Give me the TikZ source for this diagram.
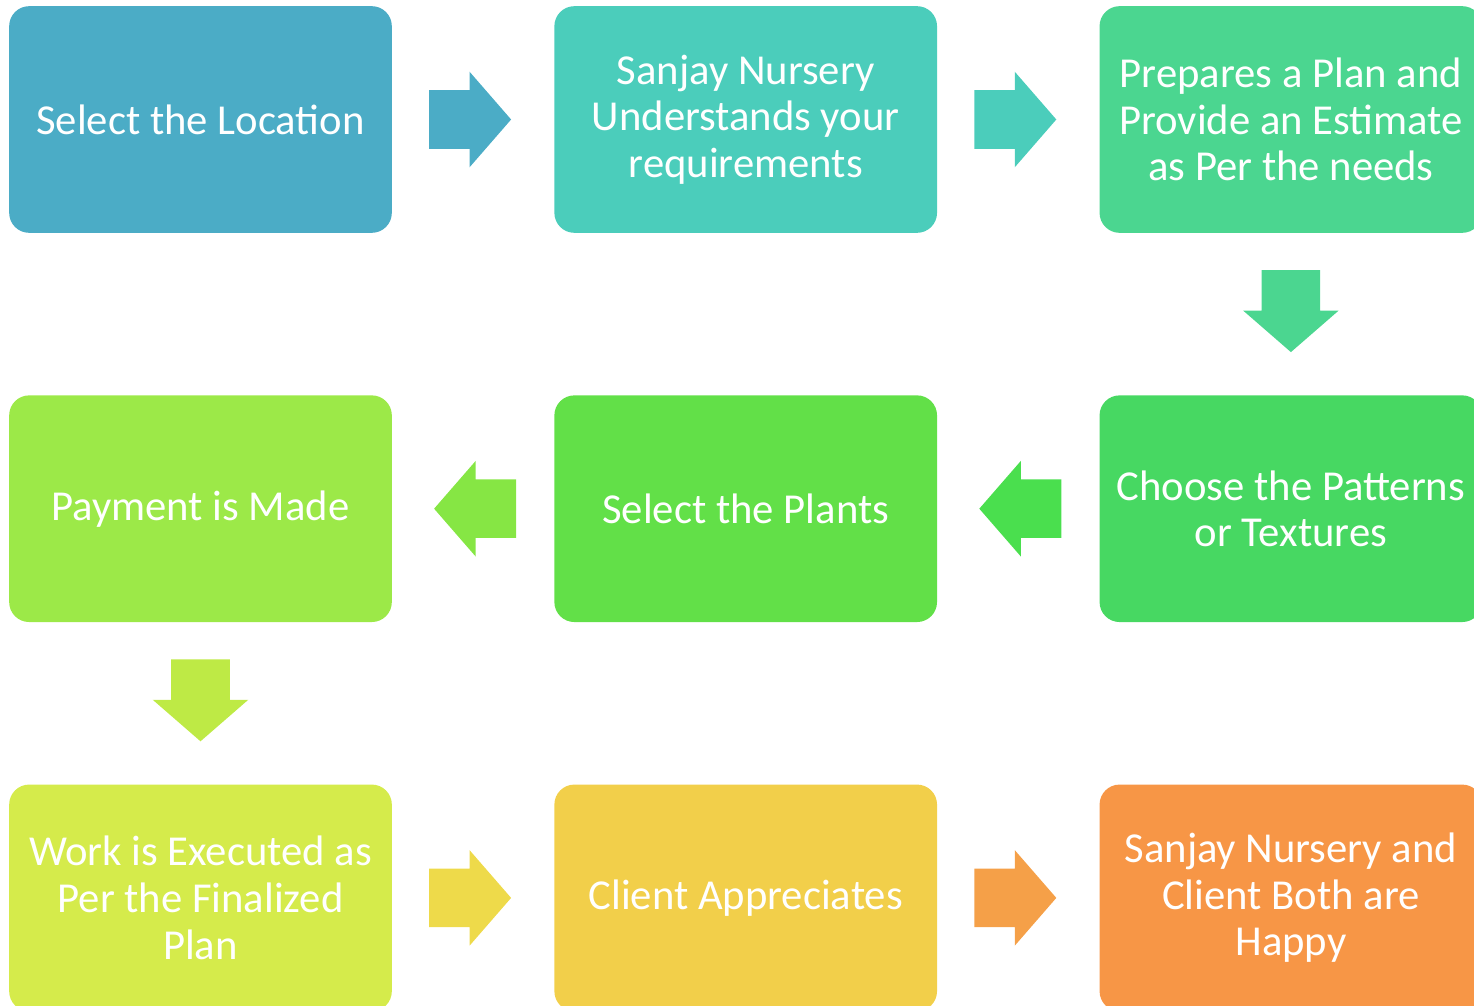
\documentclass[tikz,border=0pt]{standalone}
\usepackage{fontspec}
\setmainfont{Carlito}
\usetikzlibrary{positioning,calc,shapes.arrows}

\definecolor{boxA}{HTML}{4BACC6}
\definecolor{boxB}{HTML}{4BCDBB}
\definecolor{boxC}{HTML}{4BD690}
\definecolor{boxD}{HTML}{47D862}
\definecolor{boxE}{HTML}{62E048}
\definecolor{boxF}{HTML}{9CE948}
\definecolor{boxG}{HTML}{D5EB4B}
\definecolor{boxH}{HTML}{F2CF4A}
\definecolor{boxI}{HTML}{F79646}
\definecolor{arrD}{HTML}{4ADF4E}
\definecolor{arrE}{HTML}{86E644}
\definecolor{arrF}{HTML}{BEEA45}
\definecolor{arrG}{HTML}{EEDA4A}
\definecolor{arrH}{HTML}{F5A048}

\tikzset{
  stepbox/.style = {shape = rectangle, rounded corners = 15pt, minimum width = 287pt, minimum height = 170pt, inner sep = 0pt, text = white, align = center, font = \fontsize{32}{35}\selectfont},
  blockarr/.style = {single arrow, single arrow head extend = 13.9pt, single arrow tip angle = 98, inner xsep = 0pt, inner ysep = 21.75pt, minimum height = 61.5pt, minimum width = 71.25pt, outer sep = 0pt, anchor = tail}
}

\begin{document}
\begin{tikzpicture}[x = 0.75pt, y = -0.75pt, node distance = 121.5pt]
\useasboundingbox (0,0) rectangle (1474,1006);
\clip (0,0) rectangle (1474,1006);
\node[stepbox, fill = boxA] (location) at (200.5,119.5) {Select the Location};
\node[stepbox, fill = boxB, right = of location] (understand) {Sanjay Nursery\\Understands your\\requirements};
\node[stepbox, fill = boxC, right = of understand] (plan) {Prepares a Plan and\\Provide an Estimate\\as Per the needs};
\node[stepbox, fill = boxD, below = of plan] (pattern) {Choose the Patterns\\or Textures};
\node[stepbox, fill = boxE, left = of pattern] (plants) {Select the Plants};
\node[stepbox, fill = boxF, left = of plants] (payment) {Payment is Made};
\node[stepbox, fill = boxG, below = of payment] (work) {Work is Executed as\\Per the Finalized\\Plan};
\node[stepbox, fill = boxH, right = of work] (appreciate) {Client Appreciates};
\node[stepbox, fill = boxI, right = of appreciate] (happy) {Sanjay Nursery and\\Client Both are\\Happy};

\node[blockarr, fill = boxA] (a1) at ($(location.east) + (37,0)$) {};
\node[blockarr, fill = boxB] (a2) at ($(understand.east) + (37,0)$) {};
\node[blockarr, fill = boxC, rotate = -90] (a3) at ($(plan.south) + (0,37)$) {};
\node[blockarr, fill = arrD, rotate = 180] (a4) at ($(pattern.west) + (-38,0)$) {};
\node[blockarr, fill = arrE, rotate = 180] (a5) at ($(plants.west) + (-38,0)$) {};
\node[blockarr, fill = arrF, rotate = -90] (a6) at ($(payment.south) + (0,37)$) {};
\node[blockarr, fill = arrG] (a7) at ($(work.east) + (37,0)$) {};
\node[blockarr, fill = arrH] (a8) at ($(appreciate.east) + (37,0)$) {};
\end{tikzpicture}
\end{document}
